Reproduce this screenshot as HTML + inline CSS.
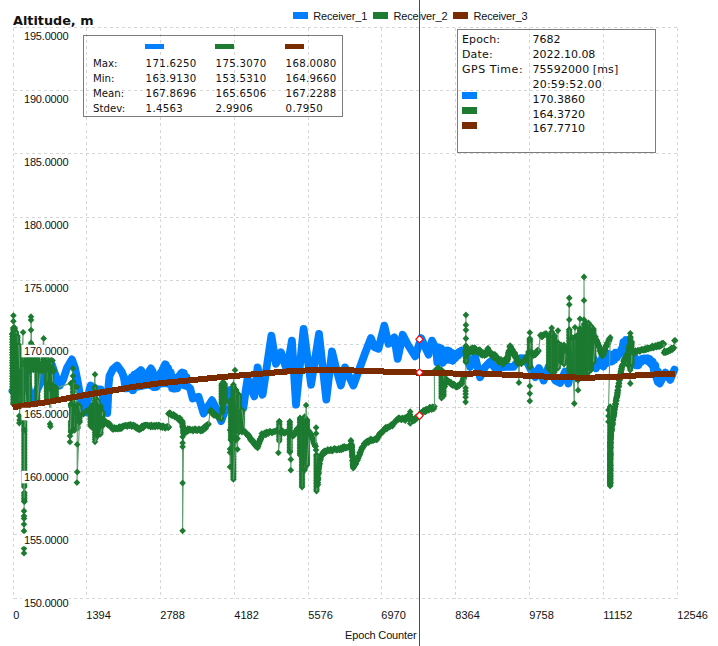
<!DOCTYPE html>
<html><head><meta charset="utf-8"><title>Altitude, m</title>
<style>
html,body{margin:0;padding:0;background:#fff}
svg{display:block}
.ax{font-family:"Liberation Sans",sans-serif;font-size:11px;fill:#111}
.bx{font-family:"DejaVu Sans","Liberation Sans",sans-serif;font-size:10.2px;fill:#111}
.v{letter-spacing:.3px}
.bi{font-family:"DejaVu Sans","Liberation Sans",sans-serif;font-size:11px;fill:#111}
.ti{font-family:"DejaVu Sans","Liberation Sans",sans-serif;font-size:12.8px;font-weight:bold;fill:#111}
.g{fill:none;stroke:#63a071;stroke-width:1.15;marker:url(#d)}
.l{fill:none;stroke:#63a071;stroke-width:1.15}
.s{fill:none;stroke:#8fbf9a;stroke-width:1;opacity:.38}
</style></head><body>
<svg width="718" height="646" viewBox="0 0 718 646">
<defs>
<marker id="d" markerUnits="userSpaceOnUse" markerWidth="8" markerHeight="8" refX="4" refY="4" orient="0"><path d="M4 0.6L7.3 4L4 7.4L0.7 4Z" fill="#1c7a31"/></marker>
</defs>
<rect width="718" height="646" fill="#fff"/>
<g stroke="#d6d6d6" stroke-width="1" stroke-dasharray="3 3" fill="none" shape-rendering="crispEdges">
<path d="M13.5 27.5V598.5"/><path d="M86.5 27.5V598.5"/><path d="M160.5 27.5V598.5"/><path d="M234.5 27.5V598.5"/><path d="M308.5 27.5V598.5"/><path d="M381.5 27.5V598.5"/><path d="M455.5 27.5V598.5"/><path d="M529.5 27.5V598.5"/><path d="M603.5 27.5V598.5"/><path d="M677.5 27.5V598.5"/>
<path d="M13.5 598.5H677.5"/><path d="M13.5 534.5H677.5"/><path d="M13.5 471.5H677.5"/><path d="M13.5 407.5H677.5"/><path d="M13.5 344.5H677.5"/><path d="M13.5 280.5H677.5"/><path d="M13.5 217.5H677.5"/><path d="M13.5 153.5H677.5"/><path d="M13.5 90.5H677.5"/><path d="M13.5 27.5H677.5"/>
</g>
<polyline points="12.5,391.0 16.0,388.0 20.0,384.0 23.0,372.0 25.0,366.0 28.0,385.0 31.0,402.0 34.0,397.0 38.0,388.0 42.0,380.0 46.0,368.0 49.0,363.0 51.8,364.5 55.0,374.0 59.6,385.7 63.0,380.0 67.0,368.0 71.9,359.3 75.0,368.0 77.4,380.0 79.5,392.0 81.0,403.0 83.0,412.0 86.0,412.5 88.0,400.0 89.3,390.0 90.7,385.5 94.0,387.5 97.0,389.5 100.7,389.4 103.0,397.0 105.3,412.5 107.3,413.0 108.0,400.0 108.5,386.0 109.5,376.0 112.8,369.3 117.2,365.6 121.7,371.8 125.0,380.1 129.2,383.5 132.6,390.1 135.1,375.1 140.9,370.1 145.9,378.4 151.0,368.4 153.1,378.4 155.1,386.8 160.1,375.1 165.2,364.2 170.2,373.4 174.4,388.5 178.5,376.8 181.9,372.6 184.4,383.5 190.2,388.5 192.7,398.5 198.6,396.8 203.6,413.5 207.8,406.9 212.0,400.2 216.1,408.5 218.6,415.2 221.1,421.1 225.3,410.2 227.8,395.2 230.0,390.1 233.0,396.0 237.0,406.0 240.0,412.0 243.4,408.0 245.5,392.0 247.6,378.2 251.0,388.0 254.3,396.4 257.6,367.3 262.6,394.7 266.0,372.0 271.4,335.6 276.0,363.8 281.0,352.3 286.9,370.5 291.9,340.6 296.0,404.7 303.6,329.0 311.1,384.7 319.0,333.9 326.3,399.6 332.0,351.4 336.0,368.0 340.9,385.5 345.0,367.4 349.0,376.0 353.4,385.5 360.1,366.9 365.1,353.2 370.9,338.1 374.3,347.1 378.5,348.8 384.3,325.6 388.5,343.8 394.3,337.3 397.7,358.8 402.7,334.8 408.0,345.0 415.2,356.3 421.1,338.1 428.6,354.7 432.0,340.6 436.0,349.0 438.0,356.0 440.0,352.0 442.7,362.5 445.0,356.0 447.7,350.5 450.0,358.0 452.7,360.5 455.5,354.5 458.3,355.0 461.6,350.8 464.0,352.0 466.0,353.0 470.0,366.9 475.1,356.8 480.1,377.2 485.1,366.9 490.1,361.8 495.2,368.5 505.2,366.9 513.5,366.9 520.2,358.2 525.2,358.5 530.0,368.0 535.3,377.2 539.0,368.0 543.6,380.6 548.6,366.5 555.3,380.6 560.1,383.0 565.1,371.5 568.4,383.5 571.8,366.4 576.0,378.0 580.0,365.0 585.0,377.0 590.0,362.0 593.5,358.1 596.0,368.4 598.5,363.1 603.5,366.4 606.9,354.7 615.2,354.7 620.2,351.4 626.1,341.4 633.6,355.1 638.6,363.4 643.6,359.8 648.6,361.4 655.3,368.4 657.8,382.1 659.8,383.4 665.4,372.7 666.7,373.8 670.2,379.9 674.4,369.6" fill="none" stroke="#0080ff" stroke-width="7.8" stroke-linejoin="round" stroke-linecap="round"/>
<polyline points="124.0,377.3 125.3,388.3 126.6,382.5 127.9,388.3 129.2,381.3 130.5,388.3 131.8,377.1 133.1,390.1 134.4,374.6 135.7,387.2 137.0,373.3 138.3,386.6 139.6,371.7 140.9,386.1 142.2,372.2 143.5,385.6 144.8,373.9 146.1,385.1 147.4,374.7 148.7,384.6 150.0,370.2 151.3,385.6 152.6,371.3 153.9,387.2 155.2,375.5 156.5,386.9 157.8,376.2 159.1,384.3 160.4,373.5 161.7,383.3 163.0,369.3 164.3,383.3 165.6,365.0 166.9,383.3 168.2,368.5 169.5,384.1 170.8,372.6 172.1,388.3 173.4,377.5 174.7,388.3 176.0,378.7 177.3,388.3 178.6,377.5 179.9,385.1 181.2,373.7 182.5,384.2 183.8,373.0 185.1,385.6 186.4,377.2" fill="none" stroke="#0080ff" stroke-width="7.8" stroke-linejoin="round" stroke-linecap="round"/>
<polyline points="436.0,347.1 437.3,362.4 438.6,347.4 439.9,359.7 441.2,348.5 442.5,362.9 443.8,351.4 445.1,360.6 446.4,350.8 447.7,358.9 449.0,350.8 450.3,359.9 451.6,352.7 452.9,360.6 454.2,353.8 455.5,358.0 456.8,353.5 458.1,355.5 459.4,351.8 460.7,352.8 462.0,350.5 463.3,352.4 464.6,351.3 465.9,353.3" fill="none" stroke="#0080ff" stroke-width="7.8" stroke-linejoin="round" stroke-linecap="round"/>
<polyline points="600.0,361.0 601.3,363.3 602.6,355.1 603.9,364.9 605.2,353.2 606.5,363.3 607.8,353.5 609.1,361.6 610.4,356.9 611.7,361.6 613.0,355.5 614.3,360.0 615.6,352.7 616.9,357.5 618.2,353.5 619.5,354.2 620.8,351.5 622.1,351.6 623.4,342.1 624.7,350.0 626.0,340.0" fill="none" stroke="#0080ff" stroke-width="7.8" stroke-linejoin="round" stroke-linecap="round"/>
<polyline points="634.5,363.2 635.8,365.2 637.1,361.5 638.4,365.3 639.7,360.1 641.0,362.1 642.3,358.7 643.6,358.6 644.9,358.4 646.2,359.2 647.5,358.4 648.8,360.7 650.1,359.4 651.4,363.6 652.7,361.5 654.0,371.0 655.3,365.1 656.6,378.0 657.9,371.5" fill="none" stroke="#0080ff" stroke-width="7.8" stroke-linejoin="round" stroke-linecap="round"/>
<g>
<polyline points="12.3,392.0 12.3,389.4 12.3,386.7 12.3,384.1 12.3,381.5 12.3,378.8 12.3,376.2 12.3,373.5 12.3,370.9 12.3,368.3 12.3,365.6 12.3,363.0 12.3,360.4 12.3,357.7 12.3,355.1 12.3,352.5 12.3,349.8 12.3,347.2 12.3,344.5 12.3,341.9 12.3,339.3 12.3,336.6 12.3,334.0" class="g"/>
<polyline points="12.3,334.0 13.4,355.0 13.4,404.0" class="g"/><polyline points="13.4,404.0 13.4,402.5 13.4,401.0 13.4,399.4 13.4,397.9 13.4,396.4 13.4,394.9 13.4,393.4 13.4,391.8 13.4,390.3 13.4,388.8 13.4,387.3 13.4,385.8 13.4,384.2 13.4,382.7 13.4,381.2 13.4,379.7 13.4,378.2 13.4,376.6 13.4,375.1 13.4,373.6 13.4,372.1 13.4,370.6 13.4,369.0 13.4,367.5 13.4,366.0 13.4,364.5 13.4,363.0 13.4,361.4 13.4,359.9 13.4,358.4 13.4,356.9 13.4,355.4 13.4,353.8 13.4,352.3 13.4,350.8 13.4,349.3 13.4,347.8 13.4,346.2 13.4,344.7 13.4,343.2 13.4,341.7 13.4,340.2 13.4,338.6 13.4,337.1 13.4,335.6 13.4,334.1 13.4,332.6 13.4,331.0 13.4,329.5 13.4,328.0" class="g"/><path d="M13.7 328.0V404.0" class="s"/>
<polyline points="13.4,328.0 13.4,321.2 13.4,315.6 14.6,328.0" class="g"/><polyline points="14.6,328.0 14.6,329.5 14.6,331.0 14.6,332.6 14.6,334.1 14.6,335.6 14.6,337.1 14.6,338.6 14.6,340.2 14.6,341.7 14.6,343.2 14.6,344.7 14.6,346.2 14.6,347.8 14.6,349.3 14.6,350.8 14.6,352.3 14.6,353.8 14.6,355.4 14.6,356.9 14.6,358.4 14.6,359.9 14.6,361.4 14.6,363.0 14.6,364.5 14.6,366.0 14.6,367.5 14.6,369.0 14.6,370.6 14.6,372.1 14.6,373.6 14.6,375.1 14.6,376.6 14.6,378.2 14.6,379.7 14.6,381.2 14.6,382.7 14.6,384.2 14.6,385.8 14.6,387.3 14.6,388.8 14.6,390.3 14.6,391.8 14.6,393.4 14.6,394.9 14.6,396.4 14.6,397.9 14.6,399.4 14.6,401.0 14.6,402.5 14.6,404.0" class="g"/>
<polyline points="16.0,404.0 16.0,402.5 16.0,401.0 16.0,399.5 16.0,398.0 16.0,396.5 16.0,395.0 16.0,393.5 16.0,392.0 16.0,390.5 16.0,389.0 16.0,387.5 16.0,386.0 16.0,384.5 16.0,383.0 16.0,381.5 16.0,380.0 16.0,378.5 16.0,377.0 16.0,375.5 16.0,374.0 16.0,372.5 16.0,371.0 16.0,369.5 16.0,368.0 16.0,366.5 16.0,365.0 16.0,363.5 16.0,362.0 16.0,360.5 16.0,359.0 16.0,357.5 16.0,356.0 16.0,354.5 16.0,353.0 16.0,351.5 16.0,350.0 16.0,348.5 16.0,347.0 16.0,345.5 16.0,344.0 16.0,342.5 16.0,341.0 16.0,339.5 16.0,338.0 16.0,336.5 16.0,335.0 16.0,333.5 16.0,332.0" class="g"/>
<path d="M16.0 332.0L17.4 336.0" class="l"/><polyline points="17.4,336.0 17.4,337.5 17.4,339.0 17.4,340.6 17.4,342.1 17.4,343.6 17.4,345.1 17.4,346.7 17.4,348.2 17.4,349.7 17.4,351.2 17.4,352.7 17.4,354.3 17.4,355.8 17.4,357.3 17.4,358.8 17.4,360.3 17.4,361.9 17.4,363.4 17.4,364.9 17.4,366.4 17.4,368.0 17.4,369.5 17.4,371.0 17.4,372.5 17.4,374.0 17.4,375.6 17.4,377.1 17.4,378.6 17.4,380.1 17.4,381.7 17.4,383.2 17.4,384.7 17.4,386.2 17.4,387.7 17.4,389.3 17.4,390.8 17.4,392.3 17.4,393.8 17.4,395.3 17.4,396.9 17.4,398.4 17.4,399.9 17.4,401.4 17.4,403.0 17.4,404.5 17.4,406.0" class="g"/><path d="M17.7 336.0V406.0" class="s"/>
<polyline points="18.8,406.0 18.8,404.5 18.8,402.9 18.8,401.4 18.8,399.9 18.8,398.4 18.8,396.9 18.8,395.3 18.8,393.8 18.8,392.3 18.8,390.8 18.8,389.2 18.8,387.7 18.8,386.2 18.8,384.6 18.8,383.1 18.8,381.6 18.8,380.1 18.8,378.6 18.8,377.0 18.8,375.5 18.8,374.0 18.8,372.4 18.8,370.9 18.8,369.4 18.8,367.9 18.8,366.4 18.8,364.8 18.8,363.3 18.8,361.8 18.8,360.2 18.8,358.7 18.8,357.2 18.8,355.7 18.8,354.1 18.8,352.6 18.8,351.1 18.8,349.6 18.8,348.1 18.8,346.5 18.8,345.0" class="g"/>
<path d="M18.8 345.0L20.0 372.0" class="l"/><polyline points="20.0,372.0 20.0,373.5 20.0,375.0 20.0,376.6 20.0,378.1 20.0,379.6 20.0,381.1 20.0,382.7 20.0,384.2 20.0,385.7 20.0,387.2 20.0,388.8 20.0,390.3 20.0,391.8 20.0,393.3 20.0,394.9 20.0,396.4 20.0,397.9 20.0,399.4 20.0,401.0 20.0,402.5 20.0,404.0" class="g"/>
<polyline points="20.0,404.0 19.3,416.0 19.6,420.0 19.3,423.0 23.1,332.3 22.8,350.0" class="g"/><polyline points="22.8,350.0 22.8,351.5 22.8,353.1 22.8,354.6 22.8,356.1 22.8,357.6 22.8,359.2 22.8,360.7 22.8,362.2 22.8,363.8 22.8,365.3 22.8,366.8 22.8,368.3 22.8,369.9 22.8,371.4 22.8,372.9 22.8,374.4 22.8,376.0 22.8,377.5 22.8,379.0 22.8,380.6 22.8,382.1 22.8,383.6 22.8,385.1 22.8,386.7 22.8,388.2 22.8,389.7 22.8,391.2 22.8,392.8 22.8,394.3 22.8,395.8 22.8,397.4 22.8,398.9 22.8,400.4 22.8,401.9 22.8,403.5 22.8,405.0" class="g"/><path d="M23.1 350.0V405.0" class="s"/>
<path d="M22.8 405.0L24.3 418.0" class="l"/><polyline points="24.3,418.0 24.3,419.5 24.3,421.0 24.3,422.5 24.3,424.0 24.3,425.5 24.3,427.0 24.3,428.5 24.3,430.0 24.3,431.5 24.3,433.0 24.3,434.5 24.3,436.0 24.3,437.5 24.3,439.0 24.3,440.5 24.3,442.0 24.3,443.5 24.3,445.0 24.3,446.5 24.3,448.0 24.3,449.5 24.3,451.0 24.3,452.5 24.3,454.0 24.3,455.5 24.3,457.0 24.3,458.5 24.3,460.0 24.3,461.5 24.3,463.0 24.3,464.5 24.3,466.0 24.3,467.5 24.3,469.0 24.3,470.5 24.3,472.0 24.3,473.5 24.3,475.0 24.3,476.5 24.3,478.0 24.3,479.5 24.3,481.0 24.3,482.5 24.3,484.0 24.3,485.5 24.3,487.0" class="g"/><path d="M24.6 418.0V487.0" class="s"/>
<path d="M24.3 487.0L24.3 492.5" class="l"/><polyline points="24.3,492.5 24.3,494.0 24.3,495.5 24.3,497.0 24.3,498.5 24.3,500.0 24.3,501.5" class="g"/>
<polyline points="24.3,501.5 24.0,511.0 24.0,516.0 24.0,518.5 24.0,524.3 24.0,531.0 24.0,548.6 24.0,553.2 24.3,430.0 29.0,404.0" class="g"/><polyline points="29.0,404.0 29.0,402.5 29.0,400.9 29.0,399.4 29.0,397.9 29.0,396.3 29.0,394.8 29.0,393.3 29.0,391.7 29.0,390.2 29.0,388.7 29.0,387.1 29.0,385.6 29.0,384.1 29.0,382.5 29.0,381.0 29.0,379.5 29.0,377.9 29.0,376.4 29.0,374.9 29.0,373.3 29.0,371.8 29.0,370.3 29.0,368.7 29.0,367.2 29.0,365.7 29.0,364.1 29.0,362.6 29.0,361.1 29.0,359.5 29.0,358.0" class="g"/><path d="M29.3 358.0V404.0" class="s"/>
<polyline points="29.0,358.0 31.0,342.9 31.0,330.1 31.0,320.0 31.0,316.7 31.7,345.0" class="g"/><polyline points="31.7,345.0 31.7,346.5 31.7,348.0 31.7,349.5 31.7,351.0 31.7,352.5 31.7,354.0 31.7,355.5 31.7,357.0 31.7,358.5 31.7,360.0" class="g"/>
<path d="M31.7 360.0L37.3 358.0" class="l"/><polyline points="37.3,358.0 37.3,359.5 37.3,361.0 37.3,362.5 37.3,364.0 37.3,365.5 37.3,367.0 37.3,368.5 37.3,370.0 37.3,371.5 37.3,373.0 37.3,374.5 37.3,376.0 37.3,377.5 37.3,379.0 37.3,380.5 37.3,382.0 37.3,383.5 37.3,385.0 37.3,386.5 37.3,388.0 37.3,389.5 37.3,391.0 37.3,392.5 37.3,394.0 37.3,395.5 37.3,397.0 37.3,398.5 37.3,400.0 37.3,401.5 37.3,403.0" class="g"/><path d="M37.6 358.0V403.0" class="s"/>
<polyline points="37.3,403.0 43.7,338.4 43.7,350.0" class="g"/><polyline points="43.7,350.0 43.7,351.5 43.7,353.0 43.7,354.5 43.7,356.0 43.7,357.5 43.7,359.0 43.7,360.5 43.7,362.0" class="g"/>
<path d="M43.7 362.0L46.8 358.0" class="l"/><polyline points="46.8,358.0 46.8,359.5 46.8,361.1 46.8,362.6 46.8,364.2 46.8,365.7 46.8,367.2 46.8,368.8 46.8,370.3 46.8,371.8 46.8,373.4 46.8,374.9 46.8,376.5 46.8,378.0 46.8,379.5 46.8,381.1 46.8,382.6 46.8,384.2 46.8,385.7 46.8,387.2 46.8,388.8 46.8,390.3 46.8,391.8 46.8,393.4 46.8,394.9 46.8,396.5 46.8,398.0" class="g"/><path d="M47.1 358.0V398.0" class="s"/>
<path d="M46.8 398.0L49.0 399.0" class="l"/><polyline points="49.0,399.0 49.0,397.4 49.0,395.8 49.0,394.2 49.0,392.6 49.0,391.0 49.0,389.4 49.0,387.8 49.0,386.2 49.0,384.6 49.0,383.0" class="g"/>
<polyline points="49.0,383.0 50.0,424.0 50.4,426.5 51.2,390.0" class="g"/><polyline points="51.2,390.0 51.2,388.5 51.2,387.0 51.2,385.5 51.2,384.0 51.2,382.5 51.2,381.0 51.2,379.5 51.2,378.0 51.2,376.5 51.2,375.0 51.2,373.5 51.2,372.0 51.2,370.5 51.2,369.0 51.2,367.5 51.2,366.0 51.2,364.5 51.2,363.0 51.2,361.5 51.2,360.0" class="g"/>
<path d="M51.2 360.0L53.0 385.0" class="l"/><polyline points="53.0,385.0 53.0,386.6 53.0,388.1 53.0,389.7 53.0,391.2 53.0,392.8 53.0,394.3 53.0,395.9 53.0,397.4 53.0,399.0" class="g"/>
<path d="M53.0 399.0L56.0 398.0" class="l"/><polyline points="56.0,398.0 56.0,396.3 56.0,394.7 56.0,393.0 56.0,391.3 56.0,389.7 56.0,388.0" class="g"/>
<polyline points="25.0,361.6 25.5,365.6 26.0,363.3 26.5,366.4 27.0,366.6 27.5,359.4 28.0,358.7 28.5,369.4 29.0,361.9 29.5,361.5 30.0,371.4 30.5,364.6 31.0,369.4 31.5,364.7 32.0,366.8 32.5,360.5 33.0,366.8 33.5,369.8 34.0,365.3 34.5,368.1 35.0,367.2 35.5,359.3 36.0,368.4 36.5,366.2 37.0,362.4 37.5,358.9 38.0,369.8 38.5,364.6 39.0,367.8 39.5,369.9 40.0,367.8 40.5,370.5 41.0,363.6 41.5,368.9 42.0,364.3 42.5,370.7 43.0,369.9 43.5,359.8 44.0,360.3 44.5,361.3 45.0,371.1 45.5,364.2 46.0,366.6 46.5,362.4 47.0,365.1 47.5,363.5 48.0,363.1 48.5,366.1 49.0,366.1 49.5,370.3 50.0,367.4 50.5,370.6 51.0,369.6 51.5,371.4 52.0,367.2 52.5,360.6 53.0,369.7 53.5,371.0 54.0,370.3" class="g" style="stroke:none"/>
<polyline points="56.0,388.0 70.7,383.4 71.0,404.0" class="g"/><polyline points="71.0,404.0 71.0,405.6 71.0,407.1 71.0,408.7 71.0,410.2 71.0,411.8 71.0,413.3 71.0,414.9 71.0,416.4 71.0,418.0 71.0,419.6 71.0,421.1 71.0,422.7 71.0,424.2 71.0,425.8 71.0,427.3 71.0,428.9 71.0,430.4 71.0,432.0" class="g"/>
<polyline points="71.0,432.0 70.0,436.0 69.9,441.9 73.0,368.5 73.0,376.0 73.0,382.0" class="g"/><polyline points="73.0,382.0 73.0,385.3 73.0,388.6 73.0,391.9 73.0,395.1 73.0,398.4 73.0,401.7 73.0,405.0" class="g"/><path d="M73.3 382.0V405.0" class="s"/>
<polyline points="74.5,405.0 74.5,406.6 74.5,408.1 74.5,409.7 74.5,411.2 74.5,412.8 74.5,414.4 74.5,415.9 74.5,417.5 74.5,419.1 74.5,420.6 74.5,422.2 74.5,423.8 74.5,425.3 74.5,426.9 74.5,428.4 74.5,430.0" class="g"/>
<polyline points="74.5,430.0 77.0,387.0 77.5,428.0" class="g"/><polyline points="77.5,428.0 77.5,426.5 77.5,424.9 77.5,423.4 77.5,421.9 77.5,420.3 77.5,418.8 77.5,417.3 77.5,415.7 77.5,414.2 77.5,412.7 77.5,411.1 77.5,409.6 77.5,408.1 77.5,406.5 77.5,405.0" class="g"/><path d="M77.8 405.0V428.0" class="s"/>
<polyline points="77.5,405.0 77.2,444.4 77.2,472.0 76.9,482.6 79.5,422.0" class="g"/><polyline points="79.5,422.0 79.5,420.4 79.5,418.8 79.5,417.2 79.5,415.6 79.5,414.0 79.5,412.4 79.5,410.8 79.5,409.2 79.5,407.6 79.5,406.0" class="g"/>
<path d="M79.5 406.0L81.0 415.2" class="l"/><polyline points="81.0,415.2 83.5,414.1 86.0,411.1 88.0,411.0 90.0,408.2" class="g"/>
<path d="M90.0 408.2L90.5 410.0" class="l"/><polyline points="90.5,410.0 90.5,411.6 90.5,413.2 90.5,414.8 90.5,416.4 90.5,418.0 90.5,419.6 90.5,421.2 90.5,422.8 90.5,424.4 90.5,426.0" class="g"/>
<path d="M90.5 426.0L92.7 428.0" class="l"/><polyline points="92.7,428.0 92.7,426.5 92.7,424.9 92.7,423.4 92.7,421.9 92.7,420.3 92.7,418.8 92.7,417.3 92.7,415.7 92.7,414.2 92.7,412.7 92.7,411.1 92.7,409.6 92.7,408.1 92.7,406.5 92.7,405.0" class="g"/>
<polyline points="92.7,405.0 95.0,374.4 95.0,387.0" class="g"/><polyline points="95.0,387.0 95.0,389.3 95.0,391.6 95.0,393.9 95.0,396.1 95.0,398.4 95.0,400.7 95.0,403.0 95.0,405.3 95.0,407.6 95.0,409.8 95.0,412.1 95.0,414.4 95.0,416.7 95.0,419.0 95.0,421.2 95.0,423.5 95.0,425.8 95.0,428.1 95.0,430.4 95.0,432.7 95.0,434.9 95.0,437.2 95.0,439.5 95.0,441.8" class="g"/><path d="M95.3 387.0V441.8" class="s"/>
<path d="M95.0 441.8L97.5 436.0" class="l"/><polyline points="97.5,436.0 97.5,434.5 97.5,433.0 97.5,431.5 97.5,430.0 97.5,428.5 97.5,427.0 97.5,425.5 97.5,424.0 97.5,422.5 97.5,421.0 97.5,419.5 97.5,418.0 97.5,416.5 97.5,415.0 97.5,413.5 97.5,412.0 97.5,410.5 97.5,409.0 97.5,407.5 97.5,406.0 97.5,404.5 97.5,403.0 97.5,401.5 97.5,400.0" class="g"/>
<path d="M97.5 400.0L100.5 406.0" class="l"/><polyline points="100.5,406.0 100.5,407.6 100.5,409.1 100.5,410.7 100.5,412.2 100.5,413.8 100.5,415.3 100.5,416.9 100.5,418.4 100.5,420.0 100.5,421.6 100.5,423.1 100.5,424.7 100.5,426.2 100.5,427.8 100.5,429.3 100.5,430.9 100.5,432.4 100.5,434.0" class="g"/>
<path d="M100.5 434.0L102.6 426.0" class="l"/><polyline points="102.6,426.0 102.6,424.4 102.6,422.9 102.6,421.3 102.6,419.8 102.6,418.2 102.6,416.7 102.6,415.1 102.6,413.6 102.6,412.0" class="g"/>
<path d="M102.6 412.0L102.0 419.4" class="l"/><polyline points="102.0,419.4 102.6,419.1 103.2,421.9 103.8,422.7 104.4,420.4 105.0,422.9 105.6,422.1 106.2,421.8 106.8,422.6 107.4,424.4 108.0,425.1 108.6,423.1 109.1,425.2 109.7,424.0 110.3,426.5 110.8,425.7 111.4,427.8 112.0,428.6 112.6,427.6 113.1,429.5 113.7,427.9 114.5,427.5 115.2,429.2 116.0,427.8 116.7,428.5 117.3,428.8 118.0,429.1 118.6,427.4 119.3,426.7 119.9,428.9 120.5,426.9 121.2,428.5 121.8,428.0 122.4,426.1 123.1,426.1 123.7,425.9 124.4,426.0 125.0,425.5 125.7,425.4 126.5,425.6 127.2,426.5 128.0,425.2 128.7,425.0 129.5,425.9 130.2,424.4 131.0,424.6 131.7,426.6 132.3,425.6 132.9,426.0 133.6,424.8 134.2,426.3 134.8,427.2 135.4,425.9 136.1,428.0 136.7,428.4 137.3,427.0 137.9,429.1 138.6,428.9 139.2,429.9 139.8,428.5 140.4,429.2 141.0,428.9 141.6,426.3 142.1,426.0 142.7,427.4 143.3,427.8 143.9,425.3 144.5,425.5 145.1,425.5 145.8,424.8 146.5,425.1 147.2,425.1 147.9,425.4 148.6,426.2 149.3,425.5 150.0,425.8 150.7,427.0 151.4,424.8 152.2,426.4 152.9,426.9 153.6,425.6 154.3,425.3 155.1,427.1 155.8,425.4 156.5,425.2 157.2,425.9 157.9,426.7 158.7,424.9 159.4,425.6 160.1,425.6 160.8,427.3 161.6,426.2 162.3,427.6 163.0,425.7 163.8,426.4 164.5,427.5 165.2,428.3 166.0,427.2 166.7,426.6 167.4,426.5 168.2,427.8 168.9,427.0" class="g"/>
<path d="M168.9 427.0L168.4 413.7" class="l"/><polyline points="168.4,413.7 169.1,414.2 169.7,412.6 170.4,413.2 171.0,415.1 171.7,415.0 172.3,415.8 173.0,414.8 173.6,414.5 174.3,415.4 174.9,417.2 175.6,416.0 176.2,416.6 176.8,417.3 177.4,417.7 178.0,418.1 178.6,420.0 179.3,418.1 179.9,418.1 180.5,421.3 181.1,421.5 181.7,422.3 182.3,421.0 182.4,423.3 182.4,424.0 182.5,422.6 182.6,424.9 182.7,425.9 182.7,426.1 182.8,426.4 182.9,426.5 183.0,427.4 183.0,427.8 183.1,428.0 183.2,430.3 183.3,430.2 183.3,432.5 183.4,430.9" class="g"/>
<polyline points="183.4,430.9 182.6,436.8 182.6,442.9 182.6,446.8 182.6,483.0 182.6,530.8 183.6,433.5" class="g"/><polyline points="183.6,433.5 184.3,432.5 185.0,432.8 185.8,432.4 186.5,432.0 187.2,430.7 187.9,428.6 188.6,430.8 189.4,429.0 190.1,429.3 190.9,430.3 191.6,429.8 192.4,429.4 193.1,431.0 193.9,429.9 194.6,429.0 195.3,428.8 196.1,430.7 196.8,429.6 197.6,430.6 198.3,429.4 199.1,429.0 199.8,430.1 200.6,431.0 201.3,429.1 201.9,430.6 202.6,430.6 203.2,429.8 203.8,429.5 204.4,426.6 205.1,428.1 205.7,428.4 206.2,425.4 206.6,425.5 207.1,425.0 207.6,425.2 208.0,424.3 208.5,423.9" class="g"/>
<path d="M208.5 423.9L210.2 411.9" class="l"/><polyline points="210.2,411.9 210.8,410.1 211.3,410.7 211.8,411.3 212.4,411.8 212.9,412.1 213.5,415.2 214.0,415.3 214.6,413.5 215.1,415.2 215.7,415.0 216.3,415.4 216.9,415.9 217.6,417.1 218.2,417.3 218.8,417.0 219.4,416.9 220.1,417.7 220.7,417.4 221.3,419.1" class="g"/>
<path d="M221.3 419.1L222.4 412.6" class="l"/><polyline points="222.4,412.6 222.4,410.9 222.4,409.3 222.5,408.9 222.5,408.8 222.5,408.8 222.5,408.6 222.5,406.7 222.6,407.3 222.6,406.1 222.6,404.8" class="g"/>
<path d="M222.6 404.8L221.6 384.0" class="l"/><polyline points="221.6,384.0 221.6,385.5 221.6,387.1 221.6,388.6 221.6,390.2 221.6,391.7 221.6,393.2 221.6,394.8 221.6,396.3 221.6,397.8 221.6,399.4 221.6,400.9 221.6,402.5 221.6,404.0" class="g"/>
<path d="M221.6 404.0L223.2 404.0" class="l"/><polyline points="223.2,404.0 223.2,402.4 223.2,400.9 223.2,399.3 223.2,397.7 223.2,396.1 223.2,394.6 223.2,393.0 223.2,391.4 223.2,389.9 223.2,388.3 223.2,386.7 223.2,385.1 223.2,383.6 223.2,382.0" class="g"/><path d="M223.5 382.0V404.0" class="s"/>
<path d="M223.2 382.0L224.8 384.0" class="l"/><polyline points="224.8,384.0 224.8,385.5 224.8,387.0 224.8,388.5 224.8,390.0 224.8,391.5 224.8,393.0 224.8,394.5 224.8,396.0 224.8,397.5 224.8,399.0 224.8,400.5 224.8,402.0" class="g"/>
<polyline points="224.8,402.0 230.0,407.8 230.0,430.0 230.0,449.0 230.0,452.4 230.0,466.9 231.0,440.0" class="g"/><polyline points="231.0,440.0 231.0,438.5 231.0,436.9 231.0,435.4 231.0,433.8 231.0,432.3 231.0,430.8 231.0,429.2 231.0,427.7 231.0,426.2 231.0,424.6 231.0,423.1 231.0,421.5 231.0,420.0 231.0,418.5 231.0,416.9 231.0,415.4 231.0,413.8 231.0,412.3 231.0,410.8 231.0,409.2 231.0,407.7 231.0,406.2 231.0,404.6 231.0,403.1 231.0,401.5 231.0,400.0" class="g"/>
<polyline points="231.0,400.0 235.0,370.2 233.4,385.0" class="g"/><polyline points="233.4,385.0 233.4,386.5 233.4,388.0 233.4,389.6 233.4,391.1 233.4,392.6 233.4,394.1 233.4,395.7 233.4,397.2 233.4,398.7 233.4,400.2 233.4,401.7 233.4,403.3 233.4,404.8 233.4,406.3 233.4,407.8 233.4,409.4 233.4,410.9 233.4,412.4 233.4,413.9 233.4,415.5 233.4,417.0 233.4,418.5 233.4,420.0 233.4,421.5 233.4,423.1 233.4,424.6 233.4,426.1 233.4,427.6 233.4,429.2 233.4,430.7 233.4,432.2 233.4,433.7 233.4,435.2 233.4,436.8 233.4,438.3 233.4,439.8 233.4,441.3 233.4,442.9 233.4,444.4 233.4,445.9 233.4,447.4 233.4,448.9 233.4,450.5 233.4,452.0 233.4,453.5 233.4,455.0 233.4,456.6 233.4,458.1 233.4,459.6 233.4,461.1 233.4,462.7 233.4,464.2 233.4,465.7 233.4,467.2 233.4,468.7 233.4,470.3 233.4,471.8 233.4,473.3 233.4,474.8 233.4,476.4 233.4,477.9 233.4,479.4" class="g"/><path d="M233.7 385.0V479.4" class="s"/>
<path d="M233.4 479.4L236.0 440.0" class="l"/><polyline points="236.0,440.0 236.0,438.5 236.0,437.0 236.0,435.5 236.0,433.9 236.0,432.4 236.0,430.9 236.0,429.4 236.0,427.9 236.0,426.4 236.0,424.8 236.0,423.3 236.0,421.8 236.0,420.3 236.0,418.8 236.0,417.3 236.0,415.8 236.0,414.2 236.0,412.7 236.0,411.2 236.0,409.7 236.0,408.2 236.0,406.7 236.0,405.2 236.0,403.6 236.0,402.1 236.0,400.6 236.0,399.1 236.0,397.6 236.0,396.1 236.0,394.5 236.0,393.0 236.0,391.5 236.0,390.0" class="g"/>
<polyline points="236.0,390.0 237.5,438.5 237.5,449.3 239.0,395.0" class="g"/><polyline points="239.0,395.0 239.0,396.5 239.0,398.1 239.0,399.6 239.0,401.2 239.0,402.7 239.0,404.2 239.0,405.8 239.0,407.3 239.0,408.9 239.0,410.4 239.0,412.0 239.0,413.5 239.0,415.0 239.0,416.6 239.0,418.1 239.0,419.7 239.0,421.2 239.0,422.8 239.0,424.3 239.0,425.8 239.0,427.4 239.0,428.9 239.0,430.5 239.0,432.0" class="g"/><path d="M239.3 395.0V432.0" class="s"/>
<path d="M239.0 432.0L242.0 432.0" class="l"/><polyline points="242.0,432.0 242.0,430.4 242.0,428.9 242.0,427.3 242.0,425.7 242.0,424.1 242.0,422.6 242.0,421.0 242.0,419.4 242.0,417.9 242.0,416.3 242.0,414.7 242.0,413.1 242.0,411.6 242.0,410.0" class="g"/>
<path d="M242.0 410.0L245.0 431.4" class="l"/><polyline points="245.0,431.4 245.5,432.3 245.9,433.5 246.4,433.2 246.8,434.6 247.3,434.4 247.7,434.3 248.2,435.7 248.6,436.8 249.1,435.4 249.5,437.0 250.0,437.6 250.4,439.5 250.9,440.2 251.3,439.1 251.8,441.2 252.2,441.5 252.7,440.5 253.1,441.6 253.6,441.2 254.0,443.9 254.5,444.0 254.9,445.3 255.4,445.6 255.8,445.8 256.3,446.5 256.7,446.6 257.2,445.8 257.6,447.9 257.8,445.4 258.1,445.1 258.3,446.3 258.5,443.4 258.8,442.9 259.0,442.2 259.2,443.8 259.5,441.0 259.7,439.9 259.9,441.6 260.2,438.8 260.4,440.2 260.6,439.0 260.9,438.8 261.1,438.5 261.3,436.6 261.6,436.6 261.8,433.6 262.5,435.6 263.1,434.6 263.8,434.9 264.5,432.9 265.1,434.5 265.8,434.9 266.5,432.0 267.2,432.6 267.8,433.0 268.5,433.6 269.2,431.7 270.0,431.5 270.7,431.6 271.5,432.6 272.2,432.9 273.0,431.7 273.7,431.6 274.5,431.6 275.2,431.4 276.0,431.3 276.7,430.0 277.5,431.0" class="g"/>
<path d="M277.5 431.0L279.3 441.0" class="l"/><polyline points="279.3,441.0 279.3,439.5 279.3,438.0 279.3,436.5 279.3,435.0 279.3,433.5 279.3,432.0 279.3,430.5 279.3,429.0 279.3,427.5 279.3,426.0 279.3,424.5 279.3,423.0 279.3,421.5" class="g"/>
<polyline points="279.3,421.5 278.4,452.8 280.5,432.4" class="g"/><polyline points="280.5,432.4 281.3,431.0 282.0,432.3 282.8,430.9 283.5,432.8 284.3,433.3 285.0,432.8 285.8,432.2 286.5,431.9 287.3,432.1 288.0,432.7" class="g"/>
<path d="M288.0 432.7L289.8 421.5" class="l"/><polyline points="289.8,421.5 289.8,423.0 289.8,424.6 289.8,426.1 289.8,427.6 289.8,429.1 289.8,430.6 289.8,432.2 289.8,433.7 289.8,435.2 289.8,436.8 289.8,438.3 289.8,439.8 289.8,441.3 289.8,442.9 289.8,444.4 289.8,445.9 289.8,447.4 289.8,448.9 289.8,450.5 289.8,452.0" class="g"/>
<polyline points="289.8,452.0 290.8,459.5 290.8,470.2 291.5,434.9" class="g"/><polyline points="291.5,434.9 292.1,434.4 292.7,435.9 293.4,435.9 294.0,434.3 294.6,433.7 295.2,434.1 295.6,431.8 295.9,431.4 296.2,430.5 296.6,431.0 296.9,429.5 297.3,428.5 297.6,429.2 298.0,429.4" class="g"/>
<path d="M298.0 429.4L300.0 418.0" class="l"/><polyline points="300.0,418.0 300.0,419.5 300.0,421.1 300.0,422.6 300.0,424.2 300.0,425.7 300.0,427.2 300.0,428.8 300.0,430.3 300.0,431.9 300.0,433.4 300.0,435.0 300.0,436.5 300.0,438.0 300.0,439.6 300.0,441.1 300.0,442.7 300.0,444.2 300.0,445.8 300.0,447.3 300.0,448.8 300.0,450.4 300.0,451.9 300.0,453.5 300.0,455.0" class="g"/>
<path d="M300.0 455.0L302.0 487.0" class="l"/><polyline points="302.0,487.0 302.0,485.5 302.0,484.0 302.0,482.4 302.0,480.9 302.0,479.4 302.0,477.9 302.0,476.3 302.0,474.8 302.0,473.3 302.0,471.8 302.0,470.2 302.0,468.7 302.0,467.2 302.0,465.7 302.0,464.2 302.0,462.6 302.0,461.1 302.0,459.6 302.0,458.1 302.0,456.5 302.0,455.0 302.0,453.5 302.0,452.0 302.0,450.5 302.0,448.9 302.0,447.4 302.0,445.9 302.0,444.4 302.0,442.8 302.0,441.3 302.0,439.8 302.0,438.3 302.0,436.8 302.0,435.2 302.0,433.7 302.0,432.2 302.0,430.7 302.0,429.1 302.0,427.6 302.0,426.1 302.0,424.6 302.0,423.0 302.0,421.5 302.0,420.0" class="g"/><path d="M302.3 420.0V487.0" class="s"/>
<path d="M302.0 420.0L304.5 416.7" class="l"/><polyline points="304.5,416.7 304.5,418.2 304.5,419.7 304.5,421.3 304.5,422.8 304.5,424.3 304.5,425.8 304.5,427.4 304.5,428.9 304.5,430.4 304.5,431.9 304.5,433.5 304.5,435.0 304.5,436.5 304.5,438.0 304.5,439.5 304.5,441.1 304.5,442.6 304.5,444.1 304.5,445.6 304.5,447.2 304.5,448.7 304.5,450.2 304.5,451.7 304.5,453.2 304.5,454.8 304.5,456.3 304.5,457.8 304.5,459.3 304.5,460.9 304.5,462.4 304.5,463.9 304.5,465.4 304.5,467.0 304.5,468.5 304.5,470.0" class="g"/><path d="M304.8 416.7V470.0" class="s"/>
<polyline points="304.5,470.0 306.1,405.2 307.0,420.0" class="g"/><polyline points="307.0,420.0 307.0,421.5 307.0,423.0 307.0,424.5 307.0,426.0 307.0,427.5 307.0,429.0 307.0,430.5 307.0,432.0 307.0,433.5 307.0,435.0 307.0,436.5 307.0,438.0 307.0,439.5 307.0,441.0 307.0,442.5 307.0,444.0 307.0,445.5 307.0,447.0 307.0,448.5 307.0,450.0 307.0,451.5 307.0,453.0 307.0,454.5 307.0,456.0 307.0,457.5 307.0,459.0 307.0,460.5 307.0,462.0 307.0,463.5 307.0,465.0" class="g"/>
<path d="M307.0 465.0L309.5 431.4" class="l"/><polyline points="309.5,431.4 309.8,433.3 310.1,433.1 310.4,435.1 310.7,434.9 311.0,434.6 311.2,435.2 311.5,435.2 311.8,437.3 312.1,437.6 312.4,437.7 312.7,438.9 313.0,439.5 313.3,441.5 313.6,440.3 313.8,443.5 314.1,442.6 314.4,443.6 314.7,443.9 314.9,445.7 315.2,446.3 315.5,446.2" class="g"/>
<polyline points="315.5,446.2 316.1,427.6 316.1,433.4 316.0,450.0 316.5,455.0" class="g"/><polyline points="316.5,455.0 316.5,456.5 316.5,458.0 316.5,459.5 316.5,461.0 316.5,462.5 316.5,464.0 316.5,465.5 316.5,467.0 316.5,468.5 316.5,470.0 316.5,471.5 316.5,473.0 316.5,474.5 316.5,476.0 316.5,477.5 316.5,479.0 316.5,480.5 316.5,482.0 316.5,483.5 316.5,485.0 316.5,486.5 316.5,488.0 316.5,489.5 316.5,491.0" class="g"/><path d="M316.8 455.0V491.0" class="s"/>
<path d="M316.5 491.0L317.5 484.9" class="l"/><polyline points="317.5,484.9 317.5,484.9 317.6,484.6 317.6,482.6 317.7,482.8 317.7,482.8 317.8,480.6 317.8,479.2 317.9,478.5 317.9,479.2 318.0,478.4 318.0,478.5 318.1,477.5 318.1,474.9 318.2,474.1 318.2,473.6 318.3,472.6 318.3,473.5 318.4,473.2 318.4,472.6 318.5,470.0 318.5,471.1 318.6,468.7 318.7,468.3 318.8,468.5 318.9,465.9 319.1,465.2 319.2,466.7 319.3,464.3 319.4,463.8 319.5,463.8 319.6,463.3 319.7,460.6 319.9,460.9 320.0,460.5 320.1,459.9 320.2,458.3 320.3,458.8 320.6,459.2 321.0,456.8 321.3,456.6 321.6,454.6 322.0,454.4 322.3,454.9 322.7,452.5 323.0,454.2 323.7,453.8 324.3,450.9 325.0,452.9 325.7,450.8 326.3,451.5 327.0,451.0 327.8,449.5 328.5,450.6 329.2,450.4 330.0,450.8 330.8,449.1 331.5,450.4 332.2,451.0 333.0,450.0 333.7,449.6 334.4,448.3 335.1,449.4 335.8,449.0 336.5,450.1 337.2,449.9 337.9,449.6 338.6,448.4 339.3,449.8 340.0,449.7 340.7,448.0 341.4,449.8 342.0,448.8 342.7,446.9 343.4,449.0 344.1,446.5 344.8,447.0 345.6,448.0 346.3,447.5 347.0,447.3 347.8,447.5 348.5,446.8 349.2,446.2" class="g"/>
<path d="M349.2 446.2L350.9 440.5" class="l"/><polyline points="350.9,440.5 351.0,441.0 351.2,443.6 351.3,444.5 351.4,444.6 351.6,446.0 351.7,445.6 351.7,446.0 351.8,447.1 351.8,449.2 351.9,447.5 351.9,449.6 352.0,449.5 352.0,451.8 352.1,451.2 352.1,451.9 352.2,452.8 352.2,453.9 352.3,455.3 352.3,454.8 352.4,457.0 352.4,455.5 352.5,456.7 352.5,456.9 352.6,457.6 352.6,460.3 352.7,460.9 352.7,460.0 352.8,460.7 352.8,462.1 352.9,463.8 352.9,464.7 353.0,465.2 353.0,465.4 353.1,464.8 353.1,466.3 353.2,466.4 353.2,468.1 353.6,467.5 353.9,465.6 354.2,465.0 354.6,465.8 354.9,462.9 355.2,464.6 355.6,464.1 355.9,463.6 356.2,461.3 356.5,461.1 356.8,460.5 357.1,460.0 357.4,460.4 357.8,458.8 358.1,457.0 358.4,458.0 358.7,456.2 359.0,455.9 359.2,455.6 359.5,452.8 359.8,454.5 360.1,453.5 360.3,452.3 360.6,451.8 360.9,450.9 361.2,449.5 361.5,449.8 361.7,447.7 362.0,448.5 362.3,448.2 362.6,447.0 362.8,446.7 363.1,447.2 363.4,446.4 364.0,443.7 364.5,445.2 365.1,444.3 365.6,442.2 366.2,442.7 366.8,441.9 367.3,441.0 367.9,441.9 368.4,442.7 369.0,440.4 369.5,441.6 370.1,440.7 370.8,438.8 371.6,440.8 372.3,439.9 373.1,440.7 373.8,439.9 374.6,439.8 375.3,438.4 376.1,439.6 376.8,439.8 377.3,439.0 377.7,437.2 378.2,437.6 378.7,436.2 379.1,434.5 379.6,433.8 380.1,433.3 380.5,433.1 381.0,432.4 381.5,432.9 381.9,432.9 382.4,431.9 382.9,431.0 383.3,431.1 383.8,429.5 384.3,429.4 384.7,429.7 385.2,428.1 385.9,427.2 386.5,429.1 387.2,428.3 387.8,427.0 388.5,426.8 389.2,427.0 389.8,426.9 390.5,425.6 391.1,424.7 391.8,425.0 392.3,426.2 392.8,423.8 393.3,424.3 393.9,423.0 394.4,422.5 394.9,421.9 395.4,422.1 395.9,420.8 396.4,419.9 397.0,419.7 397.5,419.3 398.0,419.8 398.5,418.0 399.2,417.9 400.0,419.1 400.7,419.0 401.5,419.9 402.2,418.0 403.0,419.0 403.7,419.0 404.5,417.9 405.2,420.7 405.7,418.0 406.3,417.1 406.8,417.8 407.4,416.4 407.9,417.3 408.5,416.0 409.0,414.9" class="g"/>
<path d="M409.0 414.9L410.2 411.7" class="l"/><polyline points="410.2,411.7 410.2,414.6 410.2,417.5 410.2,420.5 410.2,423.4" class="g"/>
<path d="M410.2 423.4L411.5 417.7" class="l"/><polyline points="411.5,417.7 412.2,420.0 412.9,419.0 413.6,420.9 414.2,419.4 414.8,420.4 415.4,418.0 416.0,417.4 416.6,417.0 417.2,418.2 417.8,417.2 418.4,415.9 419.0,414.7 419.6,416.0 420.1,416.4 420.7,414.7 421.3,412.5 421.8,412.1 422.4,411.8 422.9,411.6 423.5,410.7 424.1,410.3 424.6,411.6 425.2,411.8 425.8,409.3 426.3,411.1 426.9,409.1 427.6,410.0 428.3,410.2 429.0,410.1 429.7,407.2 430.4,407.9 431.0,408.6 431.7,409.5 432.4,406.8 433.1,407.3 433.8,408.8 434.5,406.4" class="g"/>
<path d="M434.5 406.4L434.4 371.7" class="l"/><polyline points="434.4,371.7 435.2,370.3 436.0,370.0 437.0,370.3 438.0,367.5 439.0,369.5 440.0,369.7 441.0,370.2" class="g"/>
<polyline points="441.5,370.0 441.5,371.6 441.5,373.1 441.5,374.7 441.5,376.2 441.5,377.8 441.5,379.3 441.5,380.9 441.5,382.4 441.5,384.0 441.5,385.6 441.5,387.1 441.5,388.7 441.5,390.2 441.5,391.8 441.5,393.3 441.5,394.9 441.5,396.4 441.5,398.0" class="g"/><path d="M441.8 370.0V398.0" class="s"/>
<path d="M441.5 398.0L443.5 396.0" class="l"/><polyline points="443.5,396.0 443.5,394.5 443.5,393.0 443.5,391.5 443.5,390.0 443.5,388.5 443.5,387.0 443.5,385.5 443.5,384.0 443.5,382.5 443.5,381.0 443.5,379.5 443.5,378.0 443.5,376.5 443.5,375.0 443.5,373.5 443.5,372.0" class="g"/>
<path d="M443.5 372.0L444.5 386.2" class="l"/><polyline points="444.5,386.2 444.8,386.5 445.1,384.1 445.3,383.6 445.6,382.3 445.9,383.2 446.1,381.6 446.4,380.2 446.7,379.2 447.3,381.3 447.8,381.5 448.4,382.2 448.9,381.7 449.5,382.5 450.0,382.0 450.6,384.1 451.1,382.5 451.7,384.3 452.4,385.4 453.1,385.4 453.8,383.9 454.6,384.6 455.3,386.6 456.0,386.3 456.7,387.2 457.4,386.9 458.1,385.2 458.8,386.2 459.6,385.4 460.3,383.8 461.0,383.6 461.7,382.3 462.0,382.6 462.3,383.6 462.6,380.3 462.8,381.0 463.1,378.9 463.4,378.1 463.7,379.1 464.0,377.2 464.2,375.9 464.5,375.6 464.8,376.3 465.1,375.5" class="g"/>
<polyline points="465.1,375.5 465.6,402.0 465.6,397.2 465.6,394.0 465.6,391.0 465.6,388.0 465.9,362.0" class="g"/><polyline points="465.9,362.0 465.9,360.4 465.9,358.8 465.9,357.2 465.9,355.6 465.9,354.0 465.9,352.4 465.9,350.8 465.9,349.2 465.9,347.6 465.9,346.0" class="g"/><path d="M466.2 346.0V362.0" class="s"/>
<polyline points="465.9,346.0 465.9,338.5 465.9,330.0 465.9,325.0 465.9,315.0 465.5,351.7" class="g"/><polyline points="465.5,351.7 465.9,352.4 466.4,355.6 466.8,351.7 467.2,353.1 467.7,352.1 468.1,353.5 468.5,352.3 469.0,352.9 469.4,351.4 469.9,349.5 470.4,349.3 470.9,348.7 471.4,352.1 471.9,348.6 472.5,348.0 473.0,352.4 473.5,348.5 474.0,351.7 474.5,347.7 475.0,349.3 475.5,348.4 476.0,351.5 476.5,350.6 477.0,350.9 477.5,351.7 478.0,352.4 478.5,350.1 479.0,351.5 479.5,350.9 479.8,349.7 480.2,353.6 480.5,352.8 480.8,354.3 481.1,351.7 481.5,353.7 481.8,353.8 482.1,355.4 482.5,352.7 482.8,354.4 483.3,354.8 483.7,352.7 484.2,354.8 484.7,355.5 485.1,353.8 485.6,354.7 485.9,354.1 486.2,351.7 486.4,351.9 486.7,354.6 487.0,351.0 487.3,351.0 487.6,348.9 487.8,349.0 488.1,348.3 488.4,351.6 488.7,351.0 489.0,352.1 489.3,353.1 489.6,351.7 489.9,353.6 490.2,352.1 490.5,352.0 490.8,354.9 491.1,355.1 491.4,355.7 491.7,353.9 492.1,355.6 492.6,354.2 493.0,357.3 493.4,357.3 493.8,354.6 494.2,358.0 494.7,354.7 495.1,354.6 495.4,358.0 495.7,356.3 496.0,357.8 496.3,358.8 496.6,356.3 496.9,360.1 497.2,358.3 497.5,359.4 497.8,359.4 498.1,361.8 498.4,362.2 498.9,360.1 499.4,359.3 499.9,360.4 500.4,361.0 500.9,359.5 501.4,360.0 501.9,363.0 502.4,362.9 502.9,364.3 503.3,364.1 503.8,363.3 504.2,360.6 504.7,359.4 505.1,359.8 505.5,360.3 506.0,360.4 506.4,360.2 506.9,359.1 507.3,361.2 507.4,358.0 507.5,358.3 507.7,359.8 507.8,358.9 507.9,356.0 508.0,355.2 508.1,357.4 508.3,353.0 508.4,353.1 508.5,354.5 508.6,354.0 508.8,351.7 508.9,350.7 509.0,350.9 509.1,353.1 509.2,351.1 509.4,353.0 509.5,351.5 509.6,351.9 509.7,346.9 509.9,347.1 510.0,345.7 510.1,347.2 510.4,347.2 510.6,346.2 510.9,349.0 511.1,347.3 511.4,348.8 511.6,348.9 511.9,352.0 512.1,350.6 512.4,350.3 512.6,349.7 512.9,352.0 513.2,353.3 513.6,354.0 513.9,355.5 514.2,355.4 514.5,353.2 514.9,353.0 515.2,356.4 515.4,357.1 515.6,356.2 515.8,358.3 516.0,357.4 516.2,356.6 516.4,356.5 516.6,356.3 516.8,359.8 517.0,361.5 517.2,362.0 517.4,360.4 517.6,361.9 517.8,363.6 518.0,363.5 518.2,363.0 518.4,362.6 518.6,363.6" class="g"/>
<polyline points="518.6,363.6 518.9,382.7 519.5,362.0" class="g"/><polyline points="519.5,362.0 520.2,361.8 520.9,363.2 521.5,363.9 522.2,362.3 522.9,361.7 523.6,361.4 524.0,361.0 524.4,361.5 524.8,359.8 525.2,360.7 525.7,357.6 526.1,357.5 526.5,357.5 526.9,356.5 527.2,357.2 527.5,356.4 527.8,356.0 528.1,354.4 528.4,352.0 528.7,352.9 529.0,352.1" class="g"/>
<polyline points="529.0,352.1 529.8,401.1 529.8,393.6 529.8,386.1 529.8,367.0" class="g"/><polyline points="529.8,367.0 529.8,365.5 529.8,364.0 529.8,362.5 529.8,361.0 529.8,359.5 529.8,358.0 529.8,356.5 529.8,355.0 529.8,353.5 529.8,352.0 529.8,350.5 529.8,349.0 529.8,347.5 529.8,346.0 529.8,344.5 529.8,343.0 529.8,341.5 529.8,340.0" class="g"/><path d="M530.1 340.0V367.0" class="s"/>
<polyline points="529.8,340.0 529.8,338.4 529.8,332.6 531.0,352.0" class="g"/><polyline points="531.0,352.0 531.5,352.0 532.0,353.9 532.6,355.2 533.1,353.4 533.6,355.7 534.1,354.3 534.6,354.2 535.1,354.9 535.6,354.5 536.1,353.1 536.6,351.2 537.1,352.9 537.6,350.2 538.1,350.3 538.6,351.1" class="g"/>
<path d="M538.6 351.1L540.3 335.3" class="l"/><polyline points="540.3,335.3 541.0,335.0 541.8,336.9 542.5,336.7 543.3,334.6 544.0,334.7 544.8,334.2 545.5,333.6 546.3,333.7 547.0,335.7" class="g"/>
<path d="M547.0 335.7L549.0 336.0" class="l"/><polyline points="549.0,336.0 549.0,337.5 549.0,339.0 549.0,340.5 549.0,342.0 549.0,343.5 549.0,345.0 549.0,346.5 549.0,348.0 549.0,349.5 549.0,351.0 549.0,352.5 549.0,354.0 549.0,355.5 549.0,357.0 549.0,358.5 549.0,360.0 549.0,361.5 549.0,363.0 549.0,364.5 549.0,366.0 549.0,367.5 549.0,369.0" class="g"/>
<polyline points="549.0,369.0 551.7,328.0 551.7,332.0" class="g"/><polyline points="551.7,332.0 551.7,333.5 551.7,335.1 551.7,336.6 551.7,338.2 551.7,339.7 551.7,341.2 551.7,342.8 551.7,344.3 551.7,345.8 551.7,347.4 551.7,348.9 551.7,350.5 551.7,352.0 551.7,353.5 551.7,355.1 551.7,356.6 551.7,358.2 551.7,359.7 551.7,361.2 551.7,362.8 551.7,364.3 551.7,365.8 551.7,367.4 551.7,368.9 551.7,370.5 551.7,372.0" class="g"/><path d="M552.0 332.0V372.0" class="s"/>
<path d="M551.7 372.0L554.5 372.0" class="l"/><polyline points="554.5,372.0 554.5,370.5 554.5,369.0 554.5,367.5 554.5,366.0 554.5,364.5 554.5,363.0 554.5,361.5 554.5,360.0 554.5,358.5 554.5,357.0 554.5,355.5 554.5,354.0 554.5,352.5 554.5,351.0 554.5,349.5 554.5,348.0 554.5,346.5 554.5,345.0 554.5,343.5 554.5,342.0 554.5,340.5 554.5,339.0 554.5,337.5 554.5,336.0" class="g"/>
<polyline points="554.5,336.0 558.0,330.6 558.0,343.0" class="g"/><polyline points="558.0,343.0 558.0,344.6 558.0,346.1 558.0,347.7 558.0,349.2 558.0,350.8 558.0,352.4 558.0,353.9 558.0,355.5 558.0,357.1 558.0,358.6 558.0,360.2 558.0,361.8 558.0,363.3 558.0,364.9 558.0,366.4 558.0,368.0" class="g"/><path d="M558.3 343.0V368.0" class="s"/>
<path d="M558.0 368.0L561.0 362.0" class="l"/><polyline points="561.0,362.0 561.0,360.5 561.0,358.9 561.0,357.4 561.0,355.8 561.0,354.3 561.0,352.7 561.0,351.2 561.0,349.6 561.0,348.1 561.0,346.5 561.0,345.0" class="g"/>
<path d="M561.0 345.0L564.0 345.0" class="l"/><polyline points="564.0,345.0 564.0,346.6 564.0,348.2 564.0,349.8 564.0,351.3 564.0,352.9 564.0,354.5 564.0,356.1 564.0,357.7 564.0,359.2 564.0,360.8 564.0,362.4 564.0,364.0" class="g"/>
<path d="M564.0 364.0L565.5 350.7" class="l"/><polyline points="565.5,350.7 566.8,350.2 568.0,349.1" class="g"/>
<polyline points="568.0,349.1 569.3,298.0 569.3,304.6 569.3,319.7 569.3,329.7" class="g"/><polyline points="569.3,329.7 569.3,331.2 569.3,332.7 569.3,334.2 569.3,335.7 569.3,337.3 569.3,338.8 569.3,340.3 569.3,341.8 569.3,343.3 569.3,344.8 569.3,346.3 569.3,347.8 569.3,349.3 569.3,350.9 569.3,352.4 569.3,353.9 569.3,355.4 569.3,356.9 569.3,358.4 569.3,359.9 569.3,361.4 569.3,362.9 569.3,364.4 569.3,366.0 569.3,367.5 569.3,369.0 569.3,370.5 569.3,372.0" class="g"/><path d="M569.6 329.7V372.0" class="s"/>
<path d="M569.3 372.0L572.0 372.0" class="l"/><polyline points="572.0,372.0 572.0,370.5 572.0,368.9 572.0,367.4 572.0,365.8 572.0,364.3 572.0,362.7 572.0,361.2 572.0,359.6 572.0,358.1 572.0,356.5 572.0,355.0 572.0,353.5 572.0,351.9 572.0,350.4 572.0,348.8 572.0,347.3 572.0,345.7 572.0,344.2 572.0,342.6 572.0,341.1 572.0,339.5 572.0,338.0" class="g"/>
<polyline points="572.0,338.0 574.3,403.5 575.0,327.3 575.0,375.0" class="g"/><polyline points="575.0,375.0 575.0,373.5 575.0,372.0 575.0,370.4 575.0,368.9 575.0,367.4 575.0,365.9 575.0,364.4 575.0,362.8 575.0,361.3 575.0,359.8 575.0,358.3 575.0,356.8 575.0,355.2 575.0,353.7 575.0,352.2 575.0,350.7 575.0,349.2 575.0,347.6 575.0,346.1 575.0,344.6 575.0,343.1 575.0,341.6 575.0,340.0 575.0,338.5 575.0,337.0" class="g"/><path d="M575.3 337.0V375.0" class="s"/>
<polyline points="575.0,337.0 578.1,390.2 578.0,380.0" class="g"/><polyline points="578.0,380.0 578.0,378.5 578.0,377.0 578.0,375.5 578.0,374.0 578.0,372.5 578.0,371.0 578.0,369.5 578.0,368.0 578.0,366.5 578.0,365.0 578.0,363.5 578.0,362.0 578.0,360.5 578.0,359.0 578.0,357.5 578.0,356.0 578.0,354.5 578.0,353.0 578.0,351.5 578.0,350.0 578.0,348.5 578.0,347.0 578.0,345.5 578.0,344.0 578.0,342.5 578.0,341.0 578.0,339.5 578.0,338.0 578.0,336.5 578.0,335.0" class="g"/>
<polyline points="578.0,335.0 580.0,318.8 580.0,329.0" class="g"/><polyline points="580.0,329.0 580.0,330.5 580.0,332.1 580.0,333.6 580.0,335.1 580.0,336.7 580.0,338.2 580.0,339.8 580.0,341.3 580.0,342.8 580.0,344.4 580.0,345.9 580.0,347.4 580.0,349.0 580.0,350.5 580.0,352.0 580.0,353.6 580.0,355.1 580.0,356.6 580.0,358.2 580.0,359.7 580.0,361.2 580.0,362.8 580.0,364.3 580.0,365.9 580.0,367.4 580.0,368.9 580.0,370.5 580.0,372.0" class="g"/><path d="M580.3 329.0V372.0" class="s"/>
<path d="M580.0 372.0L582.0 372.0" class="l"/><polyline points="582.0,372.0 582.0,370.5 582.0,369.0 582.0,367.4 582.0,365.9 582.0,364.4 582.0,362.9 582.0,361.4 582.0,359.9 582.0,358.3 582.0,356.8 582.0,355.3 582.0,353.8 582.0,352.3 582.0,350.7 582.0,349.2 582.0,347.7 582.0,346.2 582.0,344.7 582.0,343.1 582.0,341.6 582.0,340.1 582.0,338.6 582.0,337.1 582.0,335.6 582.0,334.0 582.0,332.5 582.0,331.0" class="g"/>
<polyline points="582.0,331.0 584.0,319.7 584.0,300.4 584.0,277.0 584.3,324.0" class="g"/><polyline points="584.3,324.0 584.3,325.5 584.3,327.1 584.3,328.6 584.3,330.1 584.3,331.7 584.3,333.2 584.3,334.7 584.3,336.2 584.3,337.8 584.3,339.3 584.3,340.8 584.3,342.4 584.3,343.9 584.3,345.4 584.3,347.0 584.3,348.5 584.3,350.0 584.3,351.6 584.3,353.1 584.3,354.6 584.3,356.2 584.3,357.7 584.3,359.2 584.3,360.8 584.3,362.3 584.3,363.8 584.3,365.3 584.3,366.9 584.3,368.4 584.3,369.9 584.3,371.5 584.3,373.0" class="g"/><path d="M584.6 324.0V373.0" class="s"/>
<path d="M584.3 373.0L586.5 373.0" class="l"/><polyline points="586.5,373.0 586.5,371.5 586.5,370.0 586.5,368.5 586.5,366.9 586.5,365.4 586.5,363.9 586.5,362.4 586.5,360.9 586.5,359.4 586.5,357.8 586.5,356.3 586.5,354.8 586.5,353.3 586.5,351.8 586.5,350.3 586.5,348.8 586.5,347.2 586.5,345.7 586.5,344.2 586.5,342.7 586.5,341.2 586.5,339.7 586.5,338.2 586.5,336.6 586.5,335.1 586.5,333.6 586.5,332.1 586.5,330.6 586.5,329.1 586.5,327.5 586.5,326.0 586.5,324.5 586.5,323.0" class="g"/>
<path d="M586.5 323.0L588.5 323.0" class="l"/><polyline points="588.5,323.0 588.5,324.5 588.5,326.1 588.5,327.6 588.5,329.1 588.5,330.7 588.5,332.2 588.5,333.7 588.5,335.2 588.5,336.8 588.5,338.3 588.5,339.8 588.5,341.4 588.5,342.9 588.5,344.4 588.5,346.0 588.5,347.5 588.5,349.0 588.5,350.6 588.5,352.1 588.5,353.6 588.5,355.2 588.5,356.7 588.5,358.2 588.5,359.8 588.5,361.3 588.5,362.8 588.5,364.3 588.5,365.9 588.5,367.4 588.5,368.9 588.5,370.5 588.5,372.0" class="g"/><path d="M588.8 323.0V372.0" class="s"/>
<path d="M588.5 372.0L591.0 370.0" class="l"/><polyline points="591.0,370.0 591.0,368.5 591.0,367.0 591.0,365.4 591.0,363.9 591.0,362.4 591.0,360.9 591.0,359.4 591.0,357.9 591.0,356.3 591.0,354.8 591.0,353.3 591.0,351.8 591.0,350.3 591.0,348.8 591.0,347.2 591.0,345.7 591.0,344.2 591.0,342.7 591.0,341.2 591.0,339.7 591.0,338.1 591.0,336.6 591.0,335.1 591.0,333.6 591.0,332.1 591.0,330.6 591.0,329.0 591.0,327.5 591.0,326.0" class="g"/>
<path d="M591.0 326.0L593.5 329.0" class="l"/><polyline points="593.5,329.0 593.5,330.5 593.5,332.0 593.5,333.5 593.5,335.0 593.5,336.5 593.5,338.0 593.5,339.5 593.5,341.0 593.5,342.5 593.5,344.0 593.5,345.5 593.5,347.0 593.5,348.5 593.5,350.0 593.5,351.5 593.5,353.0 593.5,354.5 593.5,356.0 593.5,357.5 593.5,359.0 593.5,360.5 593.5,362.0" class="g"/>
<path d="M593.5 362.0L595.5 336.7" class="l"/><polyline points="595.5,336.7 595.8,338.8 596.0,340.1 596.3,341.1 596.6,341.2 596.8,342.4 597.1,340.7 597.4,342.2 597.7,344.9 597.9,342.9 598.2,344.2 598.5,345.6 598.7,345.6 599.0,347.1 599.3,346.3 599.5,347.6 599.8,350.4 600.0,348.7 600.3,351.7 600.6,350.2 600.8,353.3 601.1,353.1 601.4,353.7 601.6,352.8 601.9,353.3 602.1,356.1 602.4,355.0 602.7,354.4 603.0,355.6 603.2,355.0 603.5,351.9 603.8,353.9 604.1,352.0 604.3,350.8 604.6,349.3 604.9,349.4 605.2,350.5 605.4,347.7 605.7,346.6 606.0,345.9 606.3,345.2 606.6,345.2 606.9,346.2 607.2,343.1 607.5,342.7 607.8,344.3 608.0,343.8 608.3,343.1 608.6,340.2 608.9,339.9 609.2,341.0 609.5,339.0" class="g"/>
<polyline points="609.5,339.0 610.2,337.5 608.5,410.0 608.5,416.0 608.5,421.7 610.2,407.0" class="g"/><polyline points="610.2,407.0 610.2,408.5 610.2,410.0 610.2,411.5 610.2,413.0 610.2,414.5 610.2,416.0 610.2,417.5 610.2,419.0 610.2,420.6 610.2,422.1 610.2,423.6 610.2,425.1 610.2,426.6 610.2,428.1 610.2,429.6 610.2,431.1 610.2,432.6 610.2,434.1 610.2,435.6 610.2,437.1 610.2,438.6 610.2,440.1 610.2,441.6 610.2,443.1 610.2,444.6 610.2,446.1 610.2,447.7 610.2,449.2 610.2,450.7 610.2,452.2 610.2,453.7 610.2,455.2 610.2,456.7 610.2,458.2 610.2,459.7 610.2,461.2 610.2,462.7 610.2,464.2 610.2,465.7 610.2,467.2 610.2,468.7 610.2,470.2 610.2,471.7 610.2,473.3 610.2,474.8 610.2,476.3 610.2,477.8 610.2,479.3 610.2,480.8 610.2,482.3 610.2,483.8 610.2,485.3" class="g"/><path d="M610.5 407.0V485.3" class="s"/>
<polyline points="610.2,485.9 610.2,484.0 610.2,482.4 610.2,482.7 610.2,483.2 610.2,482.6 610.2,481.3 610.2,480.2 610.2,479.8 610.2,478.8 610.2,478.3 610.2,478.5 610.2,475.9 610.2,476.4 610.2,476.7 610.3,475.7 610.3,473.0 610.3,474.7 610.3,473.6 610.3,470.9 610.3,470.5 610.3,469.6 610.3,468.4 610.3,470.5 610.3,468.1 610.3,468.7 610.3,465.8 610.3,464.8 610.3,466.6 610.3,465.7 610.3,465.6 610.3,463.9 610.3,462.8 610.3,462.8 610.3,460.0 610.3,460.7 610.3,459.7 610.3,458.1 610.3,458.7 610.3,457.2 610.3,457.0 610.3,455.9 610.3,455.1 610.4,454.5 610.4,454.5 610.4,454.9 610.4,454.1 610.4,453.2 610.4,452.4 610.4,450.0 610.4,451.4 610.4,448.6 610.4,447.4 610.4,447.8 610.4,447.8 610.4,445.9 610.4,446.1 610.4,444.3 610.4,445.7 610.5,443.4 610.5,442.8 610.5,442.2 610.6,442.5 610.6,442.1 610.7,440.0 610.7,439.0 610.7,438.8 610.8,436.5 610.8,436.8 610.9,437.3 610.9,436.4 610.9,433.5 611.0,435.2 611.0,433.1 611.1,434.1 611.2,431.6 611.3,430.5 611.4,430.8 611.5,431.1 611.6,429.0 611.7,429.6 611.8,428.5 611.9,426.7 612.0,425.8 612.1,425.8 612.2,424.7 612.4,424.0 612.5,424.1 612.6,424.1 612.7,422.5 612.8,420.5 612.9,420.0 613.0,419.8 613.1,419.8 613.2,417.7 613.3,416.8 613.4,416.9 613.5,416.0 613.6,414.5 613.7,415.3 613.8,415.7 613.9,413.8 614.0,413.7 614.1,413.2 614.2,412.5 614.3,412.0 614.4,409.8 614.5,409.9 614.7,407.5 614.8,409.1 614.9,406.9 615.1,406.5 615.2,407.0 615.3,404.5 615.5,403.6 615.6,404.8 615.7,403.4 615.8,401.2 616.0,400.3 616.1,400.6 616.2,398.9 616.4,400.7 616.5,398.0 616.6,397.6 616.8,397.3 616.9,396.9 617.0,396.0 617.1,395.9 617.2,395.3 617.3,393.9 617.4,392.2 617.5,394.1 617.6,392.5 617.7,390.0 617.8,390.4 617.9,390.6 618.0,390.6 618.1,387.1 618.3,386.3 618.4,387.0 618.5,386.1 618.6,386.8 618.7,385.9 618.8,383.7 618.9,383.3 619.0,383.1 619.1,383.3 619.2,380.5 619.3,380.4 619.4,378.8 619.5,379.7 619.7,377.2 619.8,379.2 619.9,377.3 620.1,376.7 620.2,374.6 620.3,374.3 620.5,374.3 620.6,374.8 620.7,373.2 620.8,371.7 621.0,373.1 621.1,371.5 621.2,370.4 621.4,368.7 621.5,368.3 621.6,369.4 621.8,366.4 621.9,366.9 622.1,366.5 622.4,365.0 622.6,365.6 622.9,365.4 623.1,364.6 623.4,363.5 623.6,361.3 623.8,360.2 624.1,360.6 624.3,359.6 624.6,358.6 624.8,359.9 625.1,357.3 625.3,358.5 625.8,358.2 626.2,355.2 626.6,357.0 627.1,354.9 627.5,353.7 628.0,353.1" class="g"/>
<polyline points="628.0,353.1 630.3,383.5 629.0,366.0" class="g"/><polyline points="629.0,366.0 629.0,364.5 629.0,362.9 629.0,361.4 629.0,359.8 629.0,358.3 629.0,356.8 629.0,355.2 629.0,353.7 629.0,352.2 629.0,350.6 629.0,349.1 629.0,347.5 629.0,346.0" class="g"/>
<path d="M629.0 346.0L630.3 370.0" class="l"/><polyline points="630.3,370.0 630.3,368.5 630.3,367.0 630.3,365.5 630.3,364.0 630.3,362.5 630.3,361.0 630.3,359.5 630.3,358.0 630.3,356.5 630.3,355.0 630.3,353.5 630.3,352.0 630.3,350.5 630.3,349.0 630.3,347.5 630.3,346.0 630.3,344.5 630.3,343.0 630.3,341.5 630.3,340.0 630.3,338.5 630.3,337.0" class="g"/><path d="M630.6 337.0V370.0" class="s"/>
<polyline points="630.3,337.0 630.3,333.3 631.6,342.0" class="g"/><polyline points="631.6,342.0 631.6,343.6 631.6,345.1 631.6,346.7 631.6,348.3 631.6,349.9 631.6,351.4 631.6,353.0 631.6,354.6 631.6,356.1 631.6,357.7 631.6,359.3 631.6,360.9 631.6,362.4 631.6,364.0" class="g"/>
<path d="M631.6 364.0L632.0 351.1" class="l"/><polyline points="632.0,351.1 632.7,352.4 633.4,351.9 634.1,353.2 634.9,353.0 635.6,350.6 636.3,351.5 637.0,351.4 637.7,350.5 638.5,350.6 639.2,350.4 639.9,351.5 640.7,350.3 641.4,349.4 642.1,349.5 642.9,350.0 643.6,350.2 644.3,349.0 644.9,350.2 645.6,348.5 646.3,349.6 647.0,349.2 647.6,347.7 648.3,349.2 649.0,347.9 649.7,348.1 650.3,348.1 651.0,348.0 651.7,347.2 652.4,345.8 653.0,347.8 653.7,347.8 654.4,346.5 655.1,346.6 655.8,345.4 656.5,347.1 657.2,346.3 657.9,344.7 658.6,346.3 659.3,346.6 660.0,344.5 660.7,346.2 661.3,344.4 662.0,343.2 662.7,344.6 663.3,343.2 664.0,344.1" class="g"/>
<path d="M664.0 344.1L664.0 352.8" class="l"/><polyline points="664.0,352.8 664.6,351.0 665.3,352.0 665.9,352.7 666.6,351.3 667.2,351.2 667.9,351.9 668.5,350.4 669.2,350.2 669.8,350.2 670.5,350.7 671.1,348.5 671.8,347.9 672.4,349.6 673.1,348.7 673.7,347.7" class="g"/>
<polyline points="673.7,347.7 674.4,340.6 675.2,340.4" class="g"/></g>
<polyline points="12.5,407.3 45.0,402.4 85.0,395.1 125.0,388.4 130.0,387.3 160.0,383.2 170.0,382.3 200.0,379.3 220.0,377.2 250.0,374.6 270.0,372.9 290.0,371.2 305.0,370.5 340.0,370.0 380.0,371.4 419.0,372.6 460.0,373.7 480.0,373.4 500.0,374.4 540.0,376.3 560.0,377.3 590.0,377.7 610.0,377.0 630.0,376.1 640.0,375.0 660.0,374.3 674.8,373.8" fill="none" stroke="#7a2c00" stroke-width="6" stroke-linejoin="round" stroke-linecap="butt" shape-rendering="crispEdges"/>
<rect x="21.5" y="596.8" width="47.5" height="12.5" fill="#fff"/><text class="ax" x="24" y="606.8" textLength="44.6">150.0000</text>
<rect x="21.5" y="533.8" width="47.5" height="12.5" fill="#fff"/><text class="ax" x="24" y="543.8" textLength="44.6">155.0000</text>
<rect x="21.5" y="470.8" width="47.5" height="12.5" fill="#fff"/><text class="ax" x="24" y="480.8" textLength="44.6">160.0000</text>
<rect x="21.5" y="407.8" width="47.5" height="12.5" fill="#fff"/><text class="ax" x="24" y="417.8" textLength="44.6">165.0000</text>
<rect x="21.5" y="344.8" width="47.5" height="12.5" fill="#fff"/><text class="ax" x="24" y="354.8" textLength="44.6">170.0000</text>
<rect x="21.5" y="281.8" width="47.5" height="12.5" fill="#fff"/><text class="ax" x="24" y="291.8" textLength="44.6">175.0000</text>
<rect x="21.5" y="218.8" width="47.5" height="12.5" fill="#fff"/><text class="ax" x="24" y="228.8" textLength="44.6">180.0000</text>
<rect x="21.5" y="155.8" width="47.5" height="12.5" fill="#fff"/><text class="ax" x="24" y="165.8" textLength="44.6">185.0000</text>
<rect x="21.5" y="92.8" width="47.5" height="12.5" fill="#fff"/><text class="ax" x="24" y="102.8" textLength="44.6">190.0000</text>
<rect x="21.5" y="29.8" width="47.5" height="12.5" fill="#fff"/><text class="ax" x="24" y="39.8" textLength="44.6">195.0000</text>
<text class="ax" x="13.3" y="619">0</text><text class="ax" x="86.3" y="619">1394</text><text class="ax" x="160.3" y="619">2788</text><text class="ax" x="234.3" y="619">4182</text><text class="ax" x="308.3" y="619">5576</text><text class="ax" x="381.3" y="619">6970</text><text class="ax" x="455.3" y="619">8364</text><text class="ax" x="529.3" y="619">9758</text><text class="ax" x="603.3" y="619">11152</text><text class="ax" x="677.3" y="619">12546</text>
<text class="ax" x="345" y="638.6" textLength="71.6">Epoch Counter</text>
<text class="ti" x="13" y="25">Altitude, m</text>
<rect x="293" y="12" width="15" height="7" fill="#0080ff"/><text class="ax" x="313.2" y="19.6" textLength="54.2">Receiver_1</text>
<rect x="373" y="12" width="15" height="7" fill="#1c7a31"/><text class="ax" x="393.4" y="19.6" textLength="54.2">Receiver_2</text>
<rect x="453" y="12" width="15" height="7" fill="#7a2c00"/><text class="ax" x="473.4" y="19.6" textLength="54.2">Receiver_3</text>
<rect x="83.5" y="35.5" width="259" height="81" fill="none" stroke="#7c7c7c" stroke-width="1"/>
<rect x="145" y="44" width="19" height="5" fill="#0080ff"/><rect x="215" y="44" width="19" height="5" fill="#1c7a31"/><rect x="285" y="44" width="19" height="5" fill="#7a2c00"/>
<text class="bx" y="66.8"><tspan x="93">Max:</tspan><tspan class="v" x="145.6">171.6250</tspan><tspan class="v" x="215.6">175.3070</tspan><tspan class="v" x="285.6">168.0080</tspan></text>
<text class="bx" y="81.7"><tspan x="93">Min:</tspan><tspan class="v" x="145.6">163.9130</tspan><tspan class="v" x="215.6">153.5310</tspan><tspan class="v" x="285.6">164.9660</tspan></text>
<text class="bx" y="96.6"><tspan x="93">Mean:</tspan><tspan class="v" x="145.6">167.8696</tspan><tspan class="v" x="215.6">165.6506</tspan><tspan class="v" x="285.6">167.2288</tspan></text>
<text class="bx" y="111.5"><tspan x="93">Stdev:</tspan><tspan class="v" x="145.6">1.4563</tspan><tspan class="v" x="215.6">2.9906</tspan><tspan class="v" x="285.6">0.7950</tspan></text>
<rect x="457.5" y="29.5" width="198" height="123" fill="none" stroke="#7c7c7c" stroke-width="1"/>
<text class="bi" y="42.7"><tspan x="462" textLength="38">Epoch:</tspan><tspan x="532.4">7682</tspan></text>
<text class="bi" y="57.7"><tspan x="462" textLength="30.6">Date:</tspan><tspan x="532.4">2022.10.08</tspan></text>
<text class="bi" y="72.6"><tspan x="462" textLength="60.6">GPS Time:</tspan><tspan x="532.4" textLength="85.8">75592000 [ms]</tspan></text>
<text class="bi" y="87.5"><tspan x="462"></tspan><tspan x="532.4" textLength="69.4">20:59:52.00</tspan></text>
<rect x="462" y="92" width="15" height="7" fill="#0080ff"/><text class="bi" x="532.4" y="102.5">170.3860</text>
<rect x="462" y="107" width="15" height="7" fill="#1c7a31"/><text class="bi" x="532.4" y="117.5">164.3720</text>
<rect x="462" y="122" width="15" height="7" fill="#7a2c00"/><text class="bi" x="532.4" y="132.4">167.7710</text>
<path d="M419.5 0V646" stroke="#ff0000" stroke-width="1" fill="none" shape-rendering="crispEdges"/>
<path d="M419.5 335.6l3.7 3.7l-3.7 3.7l-3.7 -3.7z" fill="#fff" stroke="#ff0000" stroke-width="1.1"/><path d="M419.5 368.8l3.7 3.7l-3.7 3.7l-3.7 -3.7z" fill="#fff" stroke="#ff0000" stroke-width="1.1"/><path d="M419.5 411.9l3.7 3.7l-3.7 3.7l-3.7 -3.7z" fill="#fff" stroke="#ff0000" stroke-width="1.1"/>
</svg></body></html>
